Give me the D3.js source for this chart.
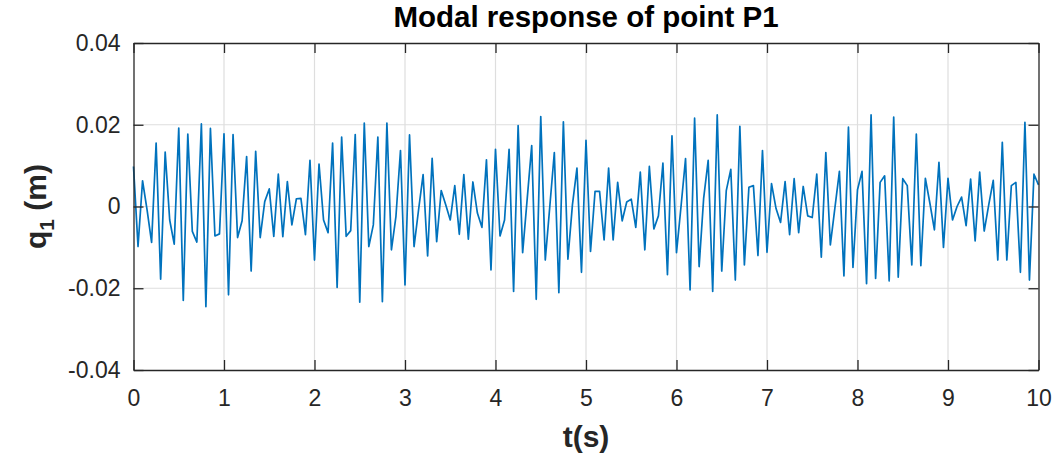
<!DOCTYPE html>
<html>
<head>
<meta charset="utf-8">
<script src="https://cdnjs.cloudflare.com/ajax/libs/d3/7.8.5/d3.min.js"></script>
<style>
    body { margin: 0; background: #fff; }
    svg { display: block; font-family: "Liberation Sans", Arial, Helvetica, sans-serif; }
</style>
</head>
<body>
<svg width="1057" height="461"></svg>
<script>
// sampled every 0.05 s, t = 0 .. 10
var dt = 0.05;
var q1 = [
    0.0098, -0.0098, 0.0063, -0.0008, -0.0088, 0.0155, -0.0178, 0.0133, -0.0033, -0.0092,
    0.0192, -0.0230, 0.0177, -0.0061, -0.0087, 0.0202, -0.0245, 0.0191, -0.0072, -0.0067,
    0.0178, -0.0216, 0.0176, -0.0076, -0.0035, 0.0122, -0.0158, 0.0135, -0.0076, 0.0012,
    0.0043, -0.0073, 0.0079, -0.0074, 0.0061, -0.0045, 0.0019, 0.0020, -0.0069, 0.0113,
    -0.0131, 0.0104, -0.0033, -0.0064, 0.0155, -0.0198, 0.0170, -0.0073, -0.0059, 0.0176,
    -0.0234, 0.0204, -0.0098, -0.0045, 0.0170, -0.0233, 0.0204, -0.0106, -0.0024, 0.0137,
    -0.0192, 0.0175, -0.0098, -0.0008, 0.0078, -0.0121, 0.0118, -0.0086, 0.0039, 0.0004,
    -0.0033, 0.0051, -0.0068, 0.0078, -0.0080, 0.0060, -0.0016, -0.0051, 0.0114, -0.0155,
    0.0140, -0.0072, -0.0033, 0.0140, -0.0208, 0.0198, -0.0113, 0.0018, 0.0149, -0.0227,
    0.0220, -0.0131, 0.0000, 0.0132, -0.0211, 0.0207, -0.0129, 0.0004, 0.0094, -0.0161,
    0.0162, -0.0110, 0.0037, 0.0037, -0.0082, 0.0094, -0.0082, 0.0059, -0.0035, 0.0011,
    0.0018, -0.0051, 0.0084, -0.0106, 0.0098, -0.0055, -0.0023, 0.0106, -0.0167, 0.0173,
    -0.0113, 0.0000, 0.0117, -0.0204, 0.0216, -0.0147, 0.0020, 0.0113, -0.0208, 0.0224,
    -0.0158, 0.0039, 0.0091, -0.0180, 0.0196, -0.0143, 0.0047, 0.0051, -0.0120, 0.0137,
    -0.0112, 0.0056, -0.0005, -0.0039, 0.0061, -0.0069, 0.0068, -0.0064, 0.0049, -0.0023,
    -0.0027, 0.0079, -0.0124, 0.0132, -0.0094, -0.0004, 0.0086, -0.0170, 0.0194, -0.0149,
    0.0041, 0.0086, -0.0189, 0.0224, -0.0176, 0.0059, 0.0075, -0.0182, 0.0219, -0.0173,
    0.0068, 0.0051, -0.0143, 0.0177, -0.0145, 0.0069, 0.0008, -0.0057, 0.0108, -0.0100,
    0.0069, -0.0033, 0.0000, 0.0023, -0.0047, 0.0067, -0.0084, 0.0084, -0.0060, 0.0004,
    0.0064, -0.0131, 0.0157, -0.0131, 0.0051, 0.0059, -0.0161, 0.0206, -0.0180, 0.0079,
    0.0053
];
var xTicks = [0, 1, 2, 3, 4, 5, 6, 7, 8, 9, 10];
var yTicks = [-0.04, -0.02, 0, 0.02, 0.04];
var yTickLabels = ["-0.04", "-0.02", "0", "0.02", "0.04"];

d3.select(window).on('load', init);

function init() {
    var svg = d3.select("svg"),
        margin = {top: 43, right: 18.5, bottom: 91, left: 133.5},
        width = +svg.attr("width") - margin.left - margin.right,
        height = +svg.attr("height") - margin.top - margin.bottom,
        axisColor = "#262626",
        g = svg.append("g").attr("transform", "translate(" + margin.left + "," + margin.top + ")");

    var x = d3.scaleLinear().domain([0, 10]).range([0, width]);
    var y = d3.scaleLinear().domain([-0.04, 0.04]).range([height, 0]);

    // grid
    g.append("g").selectAll("line")
        .data(xTicks.slice(1, -1))
        .enter().append("line")
        .attr("x1", x).attr("x2", x)
        .attr("y1", 0).attr("y2", height)
        .attr("stroke", "#dedede").attr("stroke-width", 1.2);

    g.append("g").selectAll("line")
        .data(yTicks.slice(1, -1))
        .enter().append("line")
        .attr("y1", y).attr("y2", y)
        .attr("x1", 0).attr("x2", width)
        .attr("stroke", "#dedede").attr("stroke-width", 1.2);

    // signal
    var line = d3.line()
        .x(function(d, i) { return x(i * dt); })
        .y(function(d) { return y(d); });

    g.append("path")
        .datum(q1)
        .attr("fill", "none")
        .attr("stroke", "#0072BD")
        .attr("stroke-width", 1.7)
        .attr("stroke-linejoin", "round")
        .attr("d", line);

    // axes, ticks inside, box on
    var tickStyle = function(sel) {
        sel.select(".domain").attr("stroke", axisColor).attr("stroke-width", 1.3);
        sel.selectAll(".tick line").attr("stroke", axisColor).attr("stroke-width", 1.3);
        sel.selectAll(".tick text").attr("fill", axisColor).style("font-size", "23px");
    };

    g.append("g")
        .attr("transform", "translate(0," + height + ")")
        .call(d3.axisBottom(x).tickValues(xTicks).tickSizeInner(-10).tickSizeOuter(0).tickPadding(20).tickFormat(d3.format("d")))
        .call(tickStyle);

    g.append("g")
        .call(d3.axisTop(x).tickValues(xTicks).tickSizeInner(-10).tickSizeOuter(0).tickFormat(""))
        .call(tickStyle);

    g.append("g")
        .call(d3.axisLeft(y).tickValues(yTicks).tickSizeInner(-10).tickSizeOuter(0).tickPadding(13)
            .tickFormat(function(d, i) { return yTickLabels[i]; }))
        .call(tickStyle);

    g.append("g")
        .attr("transform", "translate(" + width + ",0)")
        .call(d3.axisRight(y).tickValues(yTicks).tickSizeInner(-10).tickSizeOuter(0).tickFormat(""))
        .call(tickStyle);

    // title and labels
    svg.append("text")
        .attr("x", margin.left + width / 2)
        .attr("y", 27)
        .attr("text-anchor", "middle")
        .style("font-size", "29.5px")
        .style("font-weight", "bold")
        .attr("fill", "#000")
        .text("Modal response of point P1");

    svg.append("text")
        .attr("x", margin.left + width / 2)
        .attr("y", 447)
        .attr("text-anchor", "middle")
        .style("font-size", "30px")
        .style("font-weight", "bold")
        .attr("fill", axisColor)
        .text("t(s)");

    var yl = svg.append("text")
        .attr("transform", "translate(46," + (margin.top + height / 2) + ")rotate(-90)")
        .attr("text-anchor", "middle")
        .style("font-size", "30px")
        .style("font-weight", "bold")
        .attr("fill", axisColor);
    yl.append("tspan").text("q");
    yl.append("tspan").attr("dy", 8).style("font-size", "21px").text("1");
    yl.append("tspan").attr("dy", -8).text(" (m)");
}
</script>
</body>
</html>
